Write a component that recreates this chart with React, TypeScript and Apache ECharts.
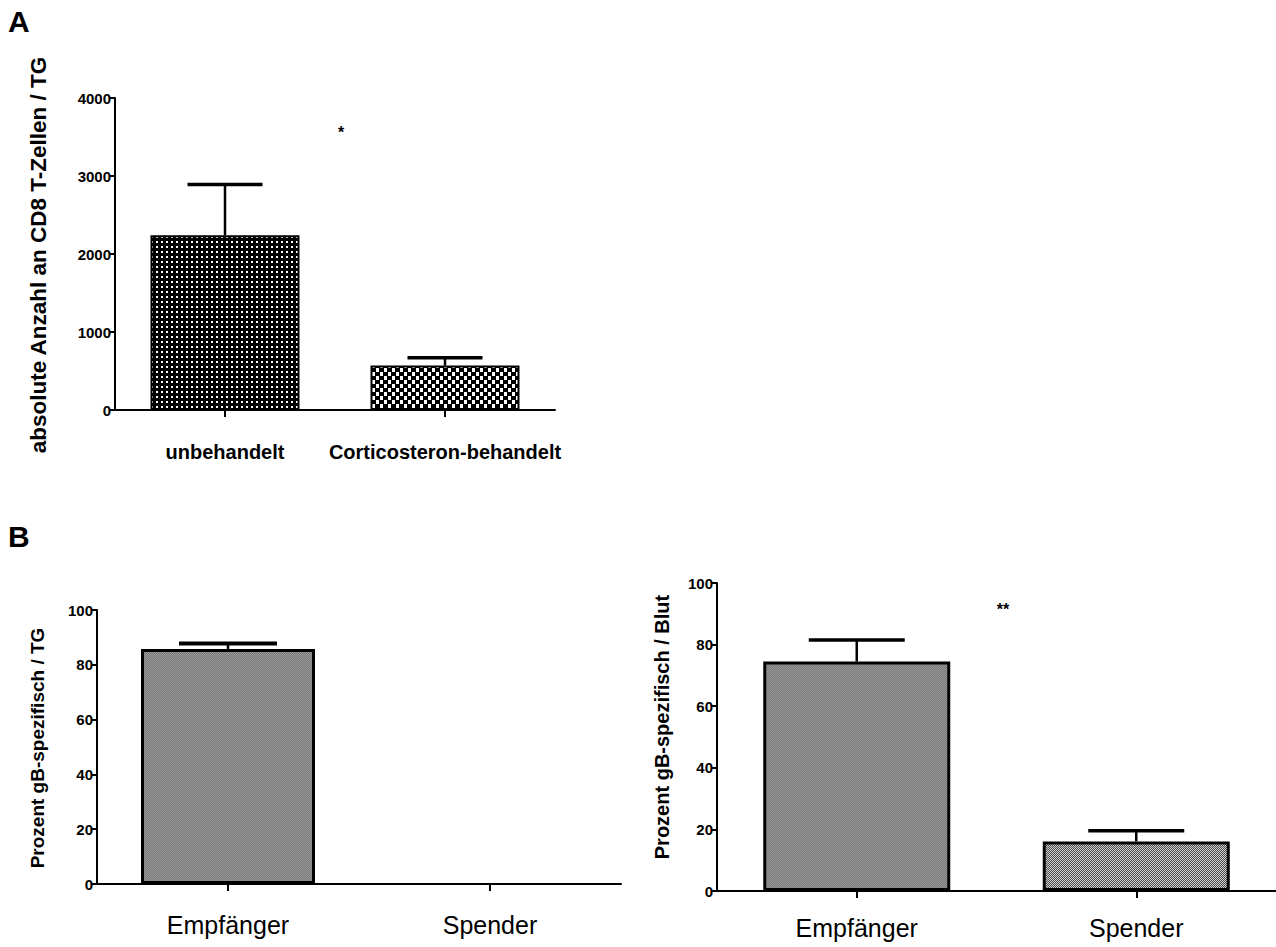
import React, { useEffect, useRef } from 'react';
import * as echarts from 'echarts';

// ---------- data ----------
const catA = ['unbehandelt', 'Corticosteron-behandelt'];
const meanA = [2240, 570];
const errA = [650, 100];
const yMaxA = 4000;
const yStepA = 1000;

const catB = ['Empfänger', 'Spender'];
const meanTG = [85.8, 0];
const errTG = [2, 0];
const meanBlut = [74.5, 16.1];
const errBlut = [7, 3.5];
const yMaxB = 100;
const yStepB = 20;

const titleA = 'absolute Anzahl an CD8 T-Zellen / TG';
const titleTG = 'Prozent gB-spezifisch / TG';
const titleBlut = 'Prozent gB-spezifisch / Blut';

const FONT = '"Liberation Sans", Arial, sans-serif';

function tile(w: number, h: number, draw: (c: CanvasRenderingContext2D) => void) {
  const cv = document.createElement('canvas');
  cv.width = w;
  cv.height = h;
  const ctx = cv.getContext('2d')!;
  draw(ctx);
  return { image: cv, repeat: 'repeat', imageWidth: w, imageHeight: h } as any;
}

function makePatterns() {
  const dots = tile(5, 5, (c) => {
    c.fillStyle = '#000'; c.fillRect(0, 0, 5, 5);
    c.fillStyle = '#fff'; c.fillRect(1, 1, 2, 2);
  });
  const checker = tile(8, 8, (c) => {
    c.fillStyle = '#000'; c.fillRect(0, 0, 8, 8);
    c.fillStyle = '#fff'; c.fillRect(0, 0, 3, 4); c.fillRect(4, 4, 3, 4);
  });
  const gray = tile(2, 2, (c) => {
    c.fillStyle = '#777777'; c.fillRect(0, 0, 2, 2);
    c.fillStyle = '#9a9a9a'; c.fillRect(0, 0, 1, 1); c.fillRect(1, 1, 1, 1);
  });
  const fine = tile(2, 2, (c) => {
    c.fillStyle = '#505050'; c.fillRect(0, 0, 2, 2);
    c.fillStyle = '#cccccc'; c.fillRect(0, 0, 1, 1); c.fillRect(1, 1, 1, 1);
  });
  return { dots, checker, gray, fine };
}

function errorSeries(idx: number, means: number[], errs: number[], cap: number, capW: number) {
  return {
    type: 'custom',
    xAxisIndex: idx,
    yAxisIndex: idx,
    z: 5,
    encode: { x: 0, y: 1 },
    data: means.map((m, i) => [i, m, errs[i]]),
    renderItem: (params: any, api: any) => {
      const i = api.value(0);
      const m = api.value(1);
      const e = api.value(2);
      if (!e) return { type: 'group', children: [] };
      const p0 = api.coord([i, m]);
      const p1 = api.coord([i, m + e]);
      return {
        type: 'group',
        children: [
          { type: 'line', shape: { x1: p0[0], y1: p0[1], x2: p1[0], y2: p1[1] }, style: { stroke: '#000', lineWidth: 2.5 } },
          { type: 'line', shape: { x1: p1[0] - cap / 2, y1: p1[1], x2: p1[0] + cap / 2, y2: p1[1] }, style: { stroke: '#000', lineWidth: capW } },
        ],
      };
    },
  };
}

function xAxis(idx: number, data: string[], labelStyle: any) {
  return {
    gridIndex: idx,
    type: 'category',
    data,
    axisLine: { show: true, lineStyle: { color: '#000', width: 2 } },
    axisTick: { show: true, alignWithLabel: true, length: 7, lineStyle: { color: '#000', width: 2 } },
    axisLabel: { color: '#000', fontFamily: FONT, interval: 0, hideOverlap: false, ...labelStyle },
    splitLine: { show: false },
  };
}

function yAxis(idx: number, max: number, step: number) {
  return {
    gridIndex: idx,
    type: 'value',
    min: 0,
    max,
    interval: step,
    axisLine: { show: true, lineStyle: { color: '#000', width: 2 } },
    axisTick: { show: true, length: 6, lineStyle: { color: '#000', width: 2 } },
    axisLabel: {
      color: '#000',
      fontFamily: FONT,
      fontWeight: 'bold',
      fontSize: 15,
      margin: 4,
      formatter: (v: number) => String(v),
    },
    splitLine: { show: false },
  };
}

export default function App() {
  const ref = useRef<HTMLDivElement>(null);
  useEffect(() => {
    if (!ref.current) return;
    const chart = echarts.init(ref.current, undefined, { renderer: 'svg' });
    const P = makePatterns();
    const patA = [P.dots, P.checker];
    const patTG = [P.gray, P.gray];
    const patBlut = [P.gray, P.fine];

    const bar = (idx: number, vals: number[], pats: any[], w: number, bw: number) => ({
      type: 'bar',
      xAxisIndex: idx,
      yAxisIndex: idx,
      barWidth: w,
      z: 3,
      data: vals.map((v, i) => ({
        value: v,
        itemStyle: { color: pats[i], borderColor: '#000', borderWidth: v === 0 ? 0 : bw },
      })),
    });

    const txt = (text: string, x: number, y: number, size: number, weight: string, rot = 0) => ({
      type: 'text',
      x,
      y,
      rotation: rot,
      style: {
        text,
        fontFamily: FONT,
        fontSize: size,
        fontWeight: weight,
        fill: '#000',
        textAlign: 'center',
        textVerticalAlign: 'middle',
      },
    });

    chart.setOption({
      animation: false,
      backgroundColor: '#fff',
      grid: [
        { left: 115, top: 98, width: 440, height: 312 },
        { left: 97, top: 610, width: 524, height: 274 },
        { left: 717, top: 583, width: 560, height: 308 },
      ],
      xAxis: [
        xAxis(0, catA, { fontWeight: 'bold', fontSize: 20, margin: 32 }),
        xAxis(1, catB, { fontWeight: 'normal', fontSize: 25, margin: 28 }),
        xAxis(2, catB, { fontWeight: 'normal', fontSize: 25, margin: 24 }),
      ],
      yAxis: [yAxis(0, yMaxA, yStepA), yAxis(1, yMaxB, yStepB), yAxis(2, yMaxB, yStepB)],
      series: [
        bar(0, meanA, patA, 149, 2),
        bar(1, meanTG, patTG, 174, 3),
        bar(2, meanBlut, patBlut, 187, 3),
        errorSeries(0, meanA, errA, 75, 3.5),
        errorSeries(1, meanTG, errTG, 98, 4),
        errorSeries(2, meanBlut, errBlut, 96, 3.5),
      ],
      graphic: [
        { type: 'text', left: 8, top: 6, style: { text: 'A', fontFamily: FONT, fontSize: 30, fontWeight: 'bold', fill: '#000' } },
        { type: 'text', left: 8, top: 521, style: { text: 'B', fontFamily: FONT, fontSize: 30, fontWeight: 'bold', fill: '#000' } },
        txt(titleA, 38, 255, 22.5, 'bold', Math.PI / 2),
        txt(titleTG, 37, 748, 19, 'bold', Math.PI / 2),
        txt(titleBlut, 662, 727, 20, 'bold', Math.PI / 2),
        txt('*', 341, 132, 16, 'bold'),
        txt('**', 1003, 609, 16, 'bold'),
      ],
    });
    return () => chart.dispose();
  }, []);
  return <div ref={ref} style={{ position: 'absolute', left: 0, top: 0, width: 1276, height: 947 }} />;
}
